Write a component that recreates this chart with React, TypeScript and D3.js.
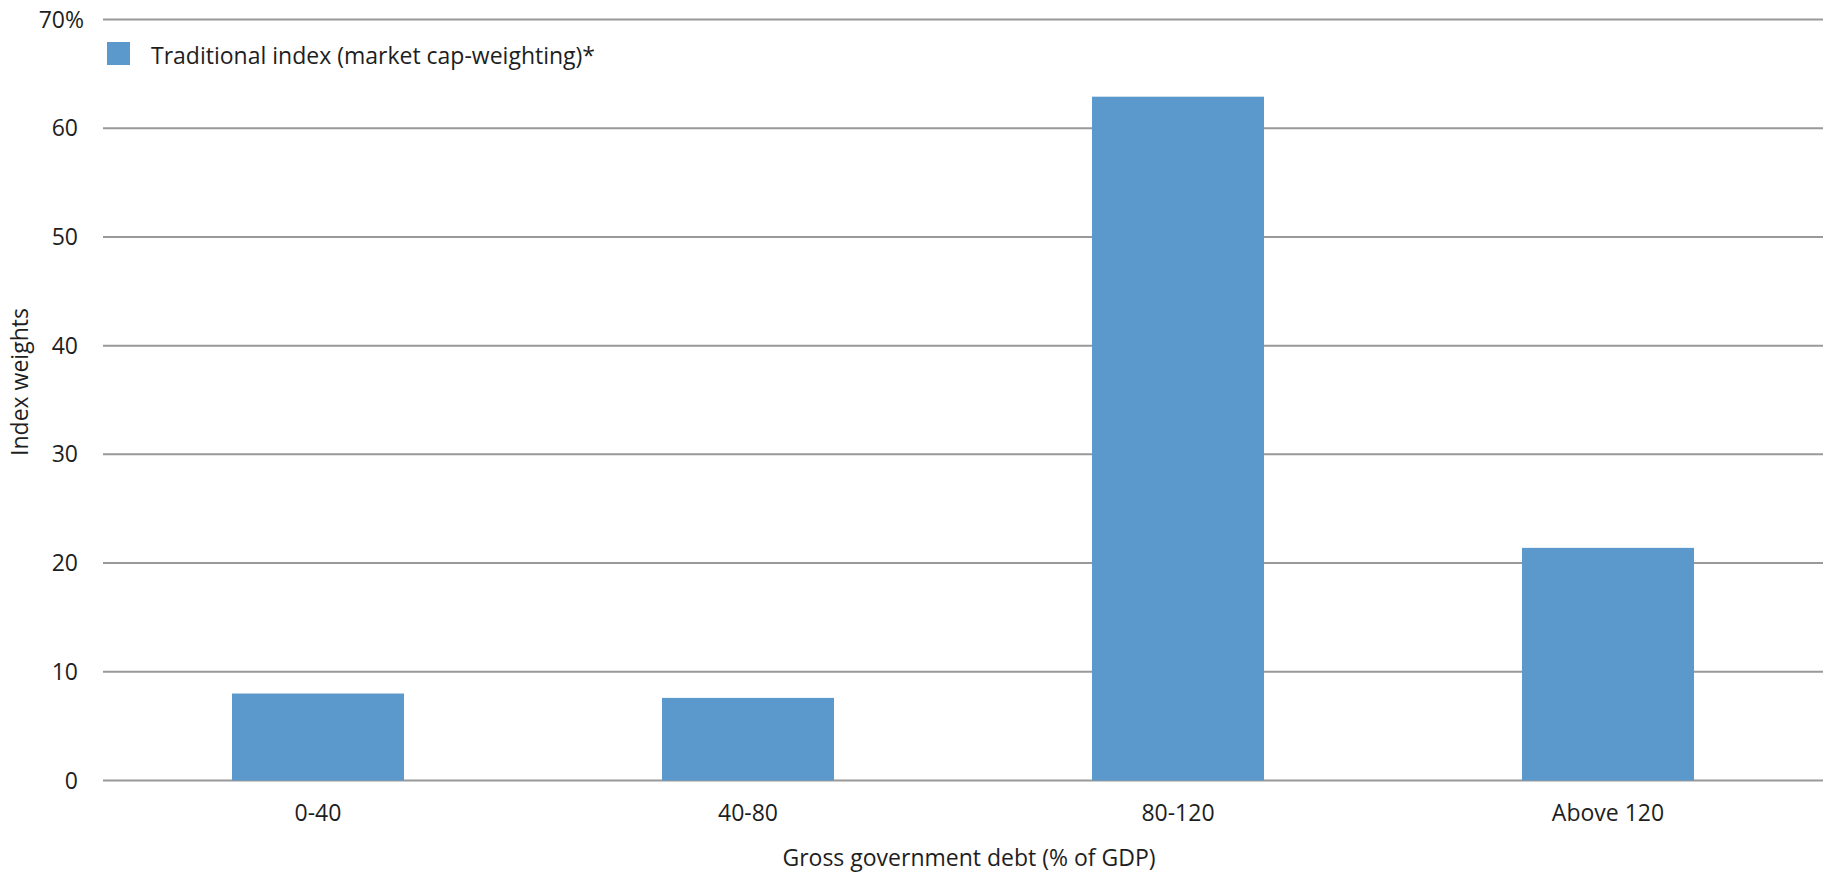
import React from "react";
import * as d3 from "d3";

// Debt buckets and index weights (%)
const categories: string[] = ["0-40", "40-80", "80-120", "Above 120"];
const weights: number[] = [8.0, 7.6, 62.9, 21.4];
const yTicks: number[] = [0, 10, 20, 30, 40, 50, 60, 70];
const seriesName = "Traditional index (market cap-weighting)*";
const xTitle = "Gross government debt (% of GDP)";
const yTitle = "Index weights";

const W = 1828;
const H = 873;
const FONT = "'Open Sans', 'Noto Sans', sans-serif";
const FS = 23;
const BAR = "#5B98CB";
const GRID = "#999999";
const TEXT = "#1e1e1e";

export default function App() {
  const x = d3
    .scaleBand<string>()
    .domain(categories)
    .range([103, 1823])
    .paddingInner(0.6)
    .paddingOuter(0.3);
  const y = d3.scaleLinear().domain([0, 70]).range([780.5, 19.5]);
  const yMax = d3.max(yTicks) as number;

  return (
    <svg
      width={W}
      height={H}
      style={{ position: "absolute", left: 0, top: 0, display: "block", background: "#fff" }}
      fontFamily={FONT}
    >
      {/* horizontal gridlines */}
      {yTicks.map((t) => (
        <line key={`g${t}`} x1={103} x2={1823} y1={y(t)} y2={y(t)} stroke={GRID} strokeWidth={2} />
      ))}
      {/* y tick labels */}
      {yTicks.map((t) => (
        <text
          key={`t${t}`}
          x={t === yMax ? 84 : 78}
          y={y(t)}
          dy="0.35em"
          textAnchor="end"
          fontSize={FS}
          fill={TEXT}
        >
          {t === yMax ? `${t}%` : `${t}`}
        </text>
      ))}
      {/* bars */}
      {categories.map((c, i) => (
        <rect
          key={c}
          x={x(c)}
          y={y(weights[i])}
          width={x.bandwidth()}
          height={y(0) - y(weights[i])}
          fill={BAR}
        />
      ))}
      {/* category labels */}
      {categories.map((c) => (
        <text
          key={`c${c}`}
          x={(x(c) as number) + x.bandwidth() / 2}
          y={821}
          textAnchor="middle"
          fontSize={FS}
          fill={TEXT}
        >
          {c}
        </text>
      ))}
      {/* legend */}
      <rect x={107} y={42} width={23} height={23} fill={BAR} />
      <text x={151} y={64} fontSize={FS} fill={TEXT}>
        {seriesName}
      </text>
      {/* axis titles */}
      <text x={969} y={866} textAnchor="middle" fontSize={FS} fill={TEXT}>
        {xTitle}
      </text>
      <text
        transform={`translate(28, 382) rotate(-90)`}
        textAnchor="middle"
        fontSize={FS}
        fill={TEXT}
      >
        {yTitle}
      </text>
    </svg>
  );
}
